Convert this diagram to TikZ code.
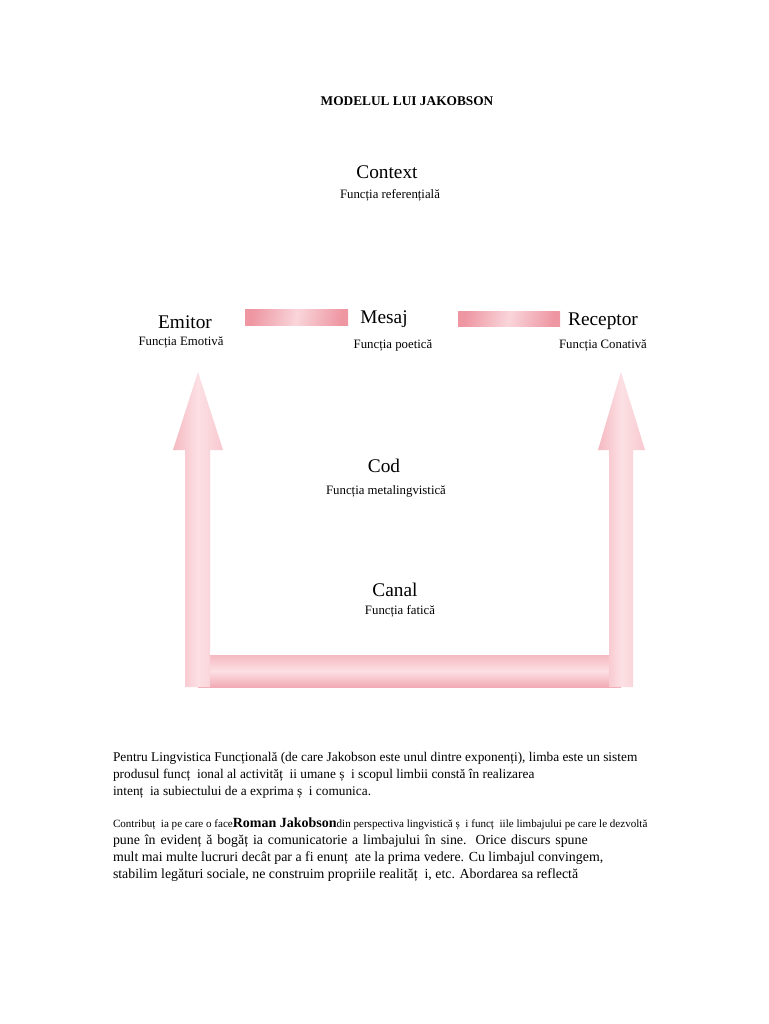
\documentclass[tikz,border=0pt]{standalone}
\usepackage{fontspec}
\setmainfont{Liberation Serif}
\usepackage{xcolor}
\definecolor{barpink}{RGB}{238,150,162}
\definecolor{midpink}{RGB}{245,185,193}
\definecolor{lightpink}{RGB}{252,224,228}

\begin{document}
\begin{tikzpicture}[
  x=0.75pt, y=-0.75pt,
  every node/.style={inner sep=0pt, outer sep=0pt},
  title/.style={font=\fontsize{10}{12}\selectfont\bfseries},
  elem/.style={font=\fontsize{14.5}{17}\selectfont},
  func/.style={font=\fontsize{9.6}{11}\selectfont},
  body/.style={anchor=base west, font=\fontsize{10}{12}\selectfont},
  bodyb/.style={anchor=base west, font=\fontsize{10.4}{12}\selectfont},
  shaft/.style={left color=midpink, right color=midpink!60!lightpink, middle color=lightpink},
  bar/.style={top color=midpink, bottom color=barpink!80, middle color=lightpink},
  link/.style={left color=barpink, right color=barpink, middle color=midpink!60!white},
]
\useasboundingbox[fill=white] (0,0) rectangle (768,1024);
% title
\node[title] (titlu) at (407,101) {MODELUL LUI JAKOBSON};
% the six factors
\node[elem] (context) at (387,172) {Context};
\node[func] (fcontext) at (390,195) {Funcția referențială};
\node[elem] (emitor) at (185,322) {Emitor};
\node[func] (femitor) at (181,342) {Funcția Emotivă};
\node[elem] (mesaj) at (384,319) {Mesaj};
\node[func] (fmesaj) at (393,345) {Funcția poetică};
\node[elem] (receptor) at (603,321) {Receptor};
\node[func] (freceptor) at (603,345) {Funcția Conativă};
\node[elem] (cod) at (384,466) {Cod};
\node[func] (fcod) at (386,491) {Funcția metalingvistică};
\node[elem] (canal) at (395,590) {Canal};
\node[func] (fcanal) at (400,611) {Funcția fatică};
% bars between emitor, mesaj and receptor
\coordinate (l1) at (245,309);
\coordinate (l2) at (348,325);
\coordinate (r1) at (458,311);
\coordinate (r2) at (560,326);
\shade[link, shading angle=80] (l1) rectangle (l2);
\shade[link, shading angle=80] (r1) rectangle (r2);
% channel: bottom bar and the two arrows
\shade[bar] (198,655) rectangle (621,687);
\shade[shaft] (185,687) -- (185,450) -- (173,450) -- (198,372)
  -- (223,450) -- (210,450) -- (210,687) -- cycle;
\shade[shaft] (609,687) -- (609,450) -- (598,450) -- (621,372)
  -- (645,450) -- (633,450) -- (633,687) -- cycle;
% text below the diagram
\node[body] (p1) at (113,761) {Pentru Lingvistica Funcțională (de care Jakobson este unul dintre exponenți), limba este un sistem};
\node[body] (p2) at (113,778) {produsul funcț~ ional al activităț~ ii umane ș~ i scopul limbii constă în realizarea};
\node[body] (p3) at (113,795) {intenț~ ia subiectului de a exprima ș~ i comunica.};
\node[body] (q1) at (113,827) {\fontsize{8.3}{9}\selectfont Contribuț~ ia pe care o face{\fontsize{10.5}{12}\selectfont\bfseries Roman Jakobson}din perspectiva lingvistică ș~ i funcț~ iile limbajului pe care le dezvoltă};
\node[bodyb] (q2) at (113,844) {\makebox[356pt][s]{pune în evidenț ă bogăț ia comunicatorie a limbajului în sine. Orice discurs spune}};
\node[bodyb] (q3) at (113,861) {mult mai multe lucruri decât par a fi enunț~ ate la prima vedere. Cu limbajul convingem,};
\node[bodyb] (q4) at (113,878) {stabilim legături sociale, ne construim propriile realităț~ i, etc. Abordarea sa reflectă};
\end{tikzpicture}
\end{document}
